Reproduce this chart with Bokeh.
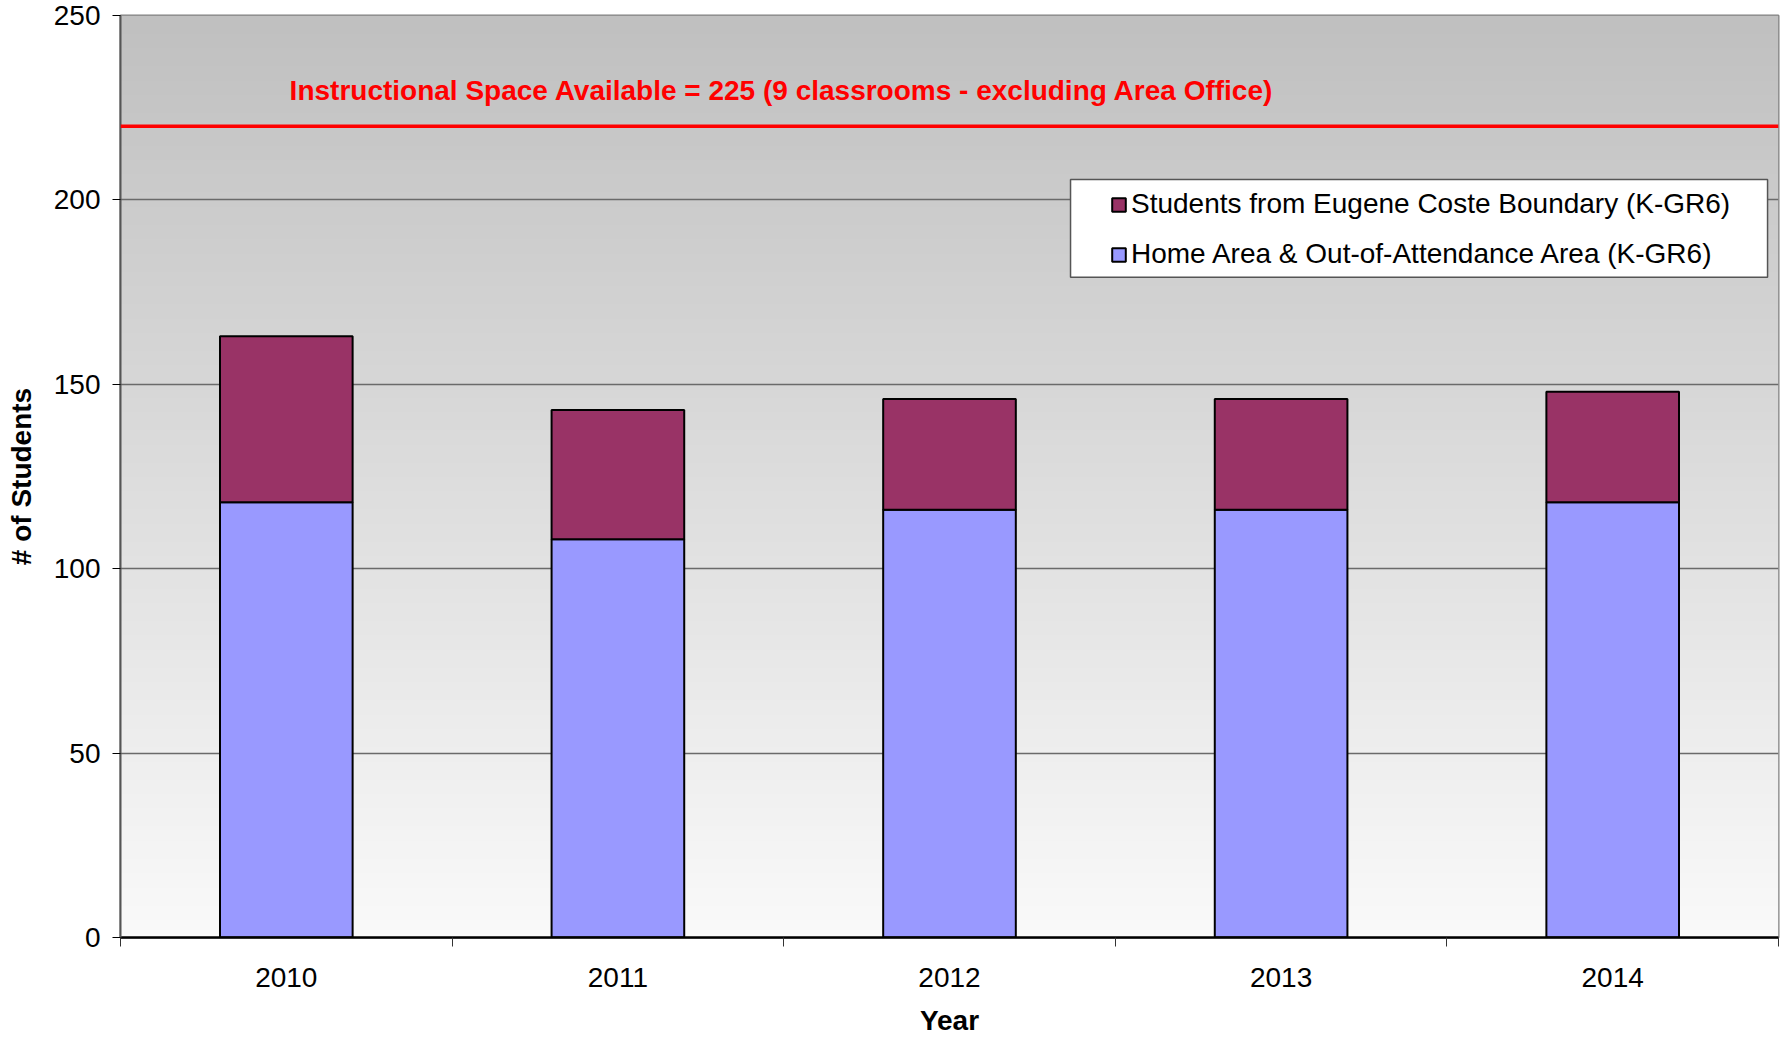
import numpy as np
from bokeh.plotting import figure
from bokeh.models import (ColumnDataSource, Range1d, FixedTicker, Span, Label,
                          Legend, LegendItem)
from bokeh.embed import file_html
from bokeh.resources import INLINE

# ---- data ----
years = ["2010", "2011", "2012", "2013", "2014"]
home_area = [118, 108, 116, 116, 118]
eugene_coste = [45, 35, 30, 30, 30]
capacity_line = 220
capacity_text = "Instructional Space Available = 225 (9 classrooms - excluding Area Office)"
series_names = ["Students from Eugene Coste Boundary (K-GR6)",
                "Home Area & Out-of-Attendance Area (K-GR6)"]
y_ticks = [0, 50, 100, 150, 200, 250]

FONT = "Liberation Sans"
FS = "28px"

xpos = list(range(len(years)))
src = ColumnDataSource(dict(x=xpos, home=home_area, eugene=eugene_coste))

p = figure(width=1786, height=1038, output_backend="svg", toolbar_location=None,
           x_range=Range1d(-0.5, len(years) - 0.5), y_range=Range1d(0, 250),
           min_border_left=120, min_border_right=8, min_border_top=15,
           min_border_bottom=101)
p.margin = (0, -8, -8, 0)
p.background_fill_color = "white"
p.border_fill_color = "white"
p.outline_line_color = "#808080"
p.outline_line_width = 2

# gradient background
n = 256
g = np.linspace(250, 192, n).astype(np.uint32)  # bottom -> top
img = np.empty((n, 1), dtype=np.uint32)
view = img.view(dtype=np.uint8).reshape((n, 1, 4))
view[:, 0, 0] = g
view[:, 0, 1] = g
view[:, 0, 2] = g
view[:, 0, 3] = 255
p.image_rgba(image=[img], x=-0.5, y=0, dw=len(years), dh=250, level="image")

# grid
p.xgrid.visible = False
p.ygrid.ticker = FixedTicker(ticks=y_ticks)
p.ygrid.grid_line_color = "#6a6a6a"
p.ygrid.grid_line_width = 1.5

# stacked bars
r = p.vbar_stack(["home", "eugene"], x="x", width=0.4, source=src,
                 fill_color=["#9999FF", "#993366"], line_color="black",
                 line_width=2)

# capacity line
p.add_layout(Span(location=capacity_line, dimension="width", line_color="#FF0000",
                  line_width=3.5))
p.add_layout(Label(x=0.01, y=229.7, text=capacity_text, text_color="#FF0000",
                   text_font=FONT, text_font_size=FS, text_font_style="bold",
                   text_baseline="middle"))

# legend box (white panel) and legend entries
p.quad(left=[2.365], right=[4.467], bottom=[179.0], top=[205.5],
       fill_color="white", line_color="#555555", line_width=1.5)
legend = Legend(items=[LegendItem(label=series_names[0], renderers=[r[1]]),
                       LegendItem(label=series_names[1], renderers=[r[0]])],
                location=(990, 667))
legend.label_text_font = FONT
legend.label_text_font_size = FS
legend.label_text_color = "black"
legend.glyph_width = 17
legend.glyph_height = 17
legend.label_standoff = 4
legend.spacing = 18
legend.padding = 0
legend.margin = 0
legend.label_height = 30
legend.border_line_color = None
legend.background_fill_alpha = 0
p.add_layout(legend, "center")

# axes
xa = p.xaxis[0]
xa.ticker = FixedTicker(ticks=xpos, minor_ticks=[i - 0.5 for i in range(len(years) + 1)])
xa.major_label_overrides = {i: y for i, y in enumerate(years)}
xa.major_tick_out = 0
xa.major_tick_in = 0
xa.minor_tick_out = 9
xa.minor_tick_in = 0
xa.minor_tick_line_color = "#333333"
xa.axis_line_color = "black"
xa.axis_line_width = 2.5
xa.major_label_text_font = FONT
xa.major_label_text_font_size = FS
xa.major_label_text_color = "black"
xa.major_label_standoff = 21
xa.axis_label = "Year"
xa.axis_label_text_font = FONT
xa.axis_label_text_font_size = FS
xa.axis_label_text_font_style = "bold"
xa.axis_label_text_color = "black"
xa.axis_label_standoff = 15

ya = p.yaxis[0]
ya.ticker = FixedTicker(ticks=y_ticks)
ya.minor_tick_line_color = None
ya.major_tick_out = 8
ya.major_tick_in = 0
ya.axis_line_color = "#555555"
ya.axis_line_width = 2
ya.major_label_text_font = FONT
ya.major_label_text_font_size = FS
ya.major_label_text_color = "black"
ya.major_label_standoff = 12
ya.axis_label = "# of Students"
ya.axis_label_text_font = FONT
ya.axis_label_text_font_size = FS
ya.axis_label_text_font_style = "bold"
ya.axis_label_text_color = "black"
ya.axis_label_standoff = 14

open("out.html", "w").write(file_html(p, INLINE))
